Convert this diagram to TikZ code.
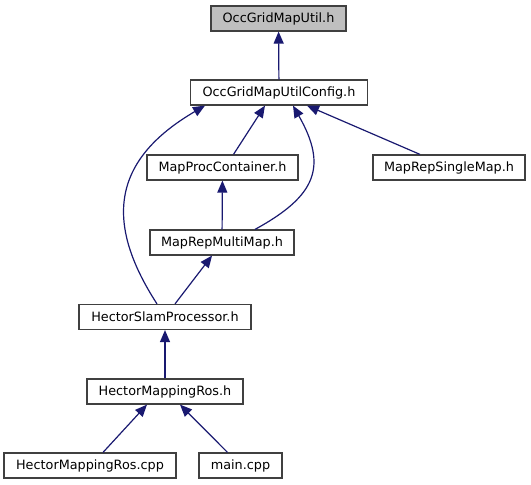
\documentclass[tikz,border=0pt]{standalone}
\usepackage{fontspec}
\setmainfont{DejaVu Sans}
\usetikzlibrary{
  arrows.meta,
  calc
}
\definecolor{edgeblue}{HTML}{191970}
\definecolor{frame}{HTML}{404040}
\definecolor{topgrey}{HTML}{BFBFBF}
\tikzset{
  file/.style={
    draw=frame,
    fill=white,
    line width=1.2pt,
    minimum height=25pt,
    inner sep=0pt,
    font=\fontsize{12.8}{15}\selectfont
  },
  topfile/.style={
    file,
    fill=topgrey
  },
  incl/.style={
    -{Triangle[length=12pt,width=10pt]},
    line width=1.2pt,
    draw=edgeblue
  }
}
\begin{document}
\begin{tikzpicture}[x=1pt,y=-1pt]
  \useasboundingbox (0,0) rectangle (531,485);

  % Header files.
  \node[topfile, minimum width=135pt] (util) at (278.5,18.5) {OccGridMapUtil.h};
  \node[file, minimum width=177pt] (config) at (279,92.5) {OccGridMapUtilConfig.h};
  \node[file, minimum width=151pt] (proc) at (222.5,167.5) {MapProcContainer.h};
  \node[file, minimum width=152pt] (single) at (449,167.5) {MapRepSingleMap.h};
  \node[file, minimum width=144pt] (multi) at (222,242.5) {MapRepMultiMap.h};
  \node[file, minimum width=172pt] (slam) at (165,317) {HectorSlamProcessor.h};
  \node[file, minimum width=156pt] (hmr) at (165,391.5) {HectorMappingRos.h};

  % Sources.
  \node[file, minimum width=172pt] (cpp) at (90,465.5) {HectorMappingRos.cpp};
  \node[file, minimum width=83pt] (main) at (240.5,465.5) {main.cpp};

  % Include edges.
  \draw[incl] (config) -- (util);
  \draw[incl] ($(proc.north)+(11,0)$) -- ($(config.south)+(-14,0)$);
  \draw[incl] ($(single.north)+(-29,0)$) -- ($(config.south)+(28,0)$);
  \draw[incl] ($(multi.north)+(33,0)$)
    .. controls (316,196) and (328,167) .. ($(config.south)+(14,0)$);
  \draw[incl] ($(slam.north)+(-8,0)$)
    .. controls (104,222) and (112,160) .. ($(config.south)+(-74,0)$);
  \draw[incl] (multi) -- (proc);
  \draw[incl] ($(slam.north)+(10,0)$) -- ($(multi.south)+(-10,0)$);
  \draw[incl] (hmr) -- (slam);
  \draw[incl] ($(cpp.north)+(13,0)$) -- ($(hmr.south)+(-18,0)$);
  \draw[incl] ($(main.north)+(-13,0)$) -- ($(hmr.south)+(15,0)$);
\end{tikzpicture}
\end{document}
